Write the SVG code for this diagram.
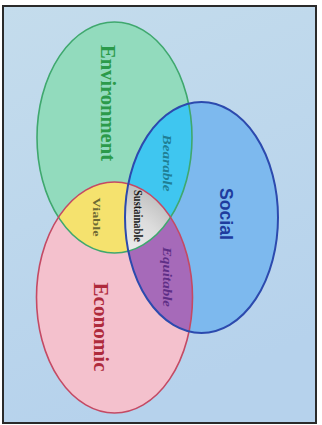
<svg xmlns="http://www.w3.org/2000/svg" width="322" height="425" viewBox="0 0 322 425">
<defs>
<linearGradient id="bg" x1="0" y1="0" x2="0.3" y2="1">
<stop offset="0" stop-color="#c4dcec"/>
<stop offset="1" stop-color="#b6d2ec"/>
</linearGradient>
<radialGradient id="sus" cx="0.55" cy="0.5" r="0.6">
<stop offset="0" stop-color="#ffffff"/>
<stop offset="0.6" stop-color="#dcdcdc"/>
<stop offset="1" stop-color="#a8a8a8"/>
</radialGradient>
<clipPath id="cG"><ellipse cx="114.5" cy="137.5" rx="77.5" ry="115.5"/></clipPath>
<clipPath id="cP"><ellipse cx="114.5" cy="297.5" rx="78" ry="115.5"/></clipPath>
<clipPath id="cGB" clip-path="url(#cG)"><ellipse cx="201.5" cy="217.5" rx="76.5" ry="115.5"/></clipPath>
</defs>
<style>
.lbl{font-family:"Liberation Serif","DejaVu Serif",serif;font-weight:bold;text-anchor:middle;dominant-baseline:central}
.sans{font-family:"Liberation Sans","DejaVu Sans",sans-serif}
.it{font-style:italic}
.edge{fill:none}
</style>
<rect x="0" y="0" width="322" height="425" fill="#ffffff"/>
<rect x="3" y="6" width="313" height="417" fill="url(#bg)" stroke="#2a2a2a" stroke-width="2"/>
<g id="environment">
<ellipse cx="114.5" cy="137.5" rx="77.5" ry="115.5" fill="#92dbbd"/>
</g>
<g id="social">
<ellipse cx="201.5" cy="217.5" rx="76.5" ry="115.5" fill="#7db9ee"/>
</g>
<g id="economic">
<ellipse cx="114.5" cy="297.5" rx="78" ry="115.5" fill="#f4c1cd"/>
</g>
<g id="viable">
<ellipse cx="114.5" cy="297.5" rx="78" ry="115.5" fill="#f5e26e" clip-path="url(#cG)"/>
</g>
<g id="bearable">
<ellipse cx="201.5" cy="217.5" rx="76.5" ry="115.5" fill="#3fc6f0" clip-path="url(#cG)"/>
</g>
<g id="equitable">
<ellipse cx="201.5" cy="217.5" rx="76.5" ry="115.5" fill="#a66ab9" clip-path="url(#cP)"/>
</g>
<g id="sustainable">
<ellipse cx="114.5" cy="297.5" rx="78" ry="115.5" fill="url(#sus)" clip-path="url(#cGB)"/>
</g>
<g id="outlines" class="edge">
<ellipse cx="114.5" cy="137.5" rx="77.5" ry="115.5" stroke="#3fa86e" stroke-width="1.6"/>
<ellipse cx="114.5" cy="297.5" rx="78" ry="115.5" stroke="#c44a64" stroke-width="1.6"/>
<ellipse cx="201.5" cy="217.5" rx="76.5" ry="115.5" stroke="#2c4aae" stroke-width="2"/>
</g>
<g id="labels">
<text class="lbl" transform="translate(108,103) rotate(90)" font-size="21" fill="#2b9a4a" textLength="116" lengthAdjust="spacingAndGlyphs">Environment</text>
<text class="lbl sans" transform="translate(226,214) rotate(90)" font-size="18" fill="#1e3c9e" textLength="52" lengthAdjust="spacingAndGlyphs">Social</text>
<text class="lbl" transform="translate(101,327) rotate(90)" font-size="21" fill="#ae2a3c" textLength="89" lengthAdjust="spacingAndGlyphs">Economic</text>
<text class="lbl it" transform="translate(167,163) rotate(90)" font-size="13" fill="#1f7f95" textLength="57" lengthAdjust="spacingAndGlyphs">Bearable</text>
<text class="lbl" transform="translate(97,217) rotate(90)" font-size="11" fill="#6e6a34" textLength="39" lengthAdjust="spacingAndGlyphs">Viable</text>
<text class="lbl" transform="translate(138,216) rotate(90)" font-size="12" fill="#1a1a1a" textLength="52" lengthAdjust="spacingAndGlyphs">Sustainable</text>
<text class="lbl it" transform="translate(167,277) rotate(90)" font-size="13" fill="#5e2e86" textLength="60" lengthAdjust="spacingAndGlyphs">Equitable</text>
</g>
</svg>
